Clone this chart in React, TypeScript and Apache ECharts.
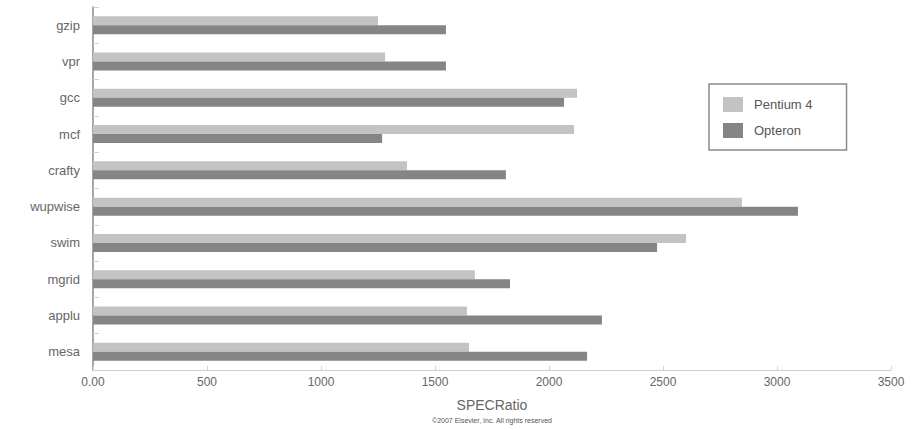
import React, { useEffect, useRef } from "react";
import * as echarts from "echarts";

const categories = ["gzip", "vpr", "gcc", "mcf", "crafty", "wupwise", "swim", "mgrid", "applu", "mesa"];
const pentium4 = [1250, 1281, 2123, 2110, 1377, 2846, 2601, 1675, 1640, 1649];
const opteron = [1548, 1548, 2066, 1268, 1811, 3092, 2474, 1829, 2232, 2167];
const xTicks = [0, 500, 1000, 1500, 2000, 2500, 3000, 3500];
const seriesNames = ["Pentium 4", "Opteron"];

export default function App() {
  const ref = useRef<HTMLDivElement>(null);
  useEffect(() => {
    if (!ref.current) return;
    const chart = echarts.init(ref.current, null, { renderer: "svg" });
    const font = "Liberation Sans, Arial, sans-serif";
    chart.setOption({
      animation: false,
      backgroundColor: "#ffffff",
      textStyle: { fontFamily: font },
      grid: { left: 93, right: 21, top: 7, bottom: 60, containLabel: false },
      legend: {
        orient: "vertical",
        left: 709,
        top: 84,
        padding: [13, 34, 12, 14],
        icon: "rect",
        itemWidth: 20,
        itemHeight: 15,
        itemGap: 11,
        borderColor: "#8a8a8a",
        borderWidth: 1.5,
        textStyle: { color: "#555", fontSize: 13, fontFamily: font, padding: [0, 0, 0, 6] },
        data: seriesNames,
      },
      xAxis: {
        type: "value",
        min: xTicks[0],
        max: xTicks[xTicks.length - 1],
        interval: 500,
        name: "SPECRatio",
        nameLocation: "middle",
        nameGap: 28,
        nameTextStyle: { color: "#666", fontSize: 14 },
        axisLine: { show: true, lineStyle: { color: "#cfcfcf", width: 1 } },
        axisTick: { show: true, inside: true, length: 4, lineStyle: { color: "#d5d5d5" } },
        splitLine: { show: false },
        axisLabel: {
          color: "#666",
          fontSize: 12,
          margin: 6,
          formatter: (v: number) => (v === 0 ? "0.00" : String(v)),
        },
      },
      yAxis: {
        type: "category",
        inverse: true,
        data: categories,
        axisLine: { show: true, lineStyle: { color: "#8a8a8a", width: 1.5 } },
        axisTick: { show: true, inside: true, length: 6, lineStyle: { color: "#d0d0d0" } },
        axisLabel: { color: "#666", fontSize: 13, margin: 13 },
      },
      series: [
        {
          name: seriesNames[0],
          type: "bar",
          data: pentium4,
          barWidth: 9,
          barGap: "0%",
          itemStyle: { color: "#c3c3c3" },
        },
        {
          name: seriesNames[1],
          type: "bar",
          data: opteron,
          barWidth: 9,
          barGap: "0%",
          itemStyle: { color: "#858585" },
        },
      ],
      graphic: [
        {
          type: "text",
          left: 432,
          top: 417,
          style: {
            text: "©2007 Elsevier, Inc. All rights reserved",
            fill: "#555",
            fontSize: 7,
            fontFamily: font,
          },
        },
      ],
    });
    return () => chart.dispose();
  }, []);
  return (
    <div
      ref={ref}
      style={{ position: "fixed", left: 0, top: 0, width: 912, height: 430 }}
    />
  );
}
